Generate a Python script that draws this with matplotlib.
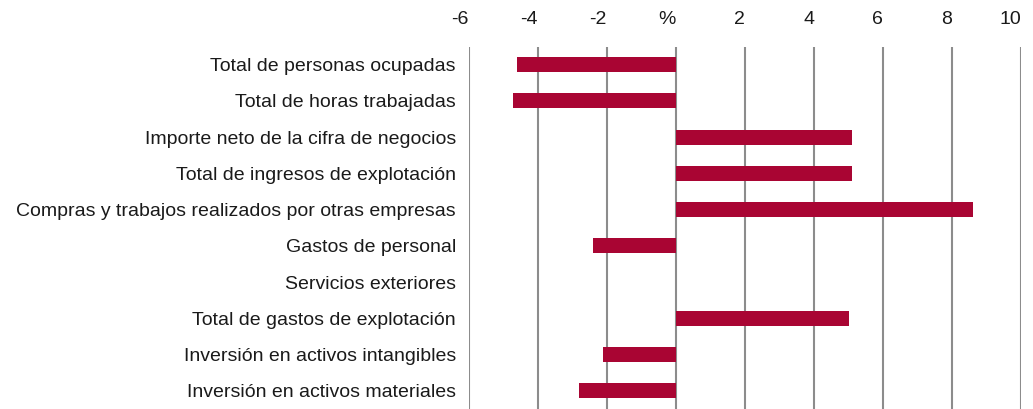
import matplotlib
matplotlib.use("Agg")
import matplotlib.pyplot as plt

categories = [
    "Total de personas ocupadas",
    "Total de horas trabajadas",
    "Importe neto de la cifra de negocios",
    "Total de ingresos de explotación",
    "Compras y trabajos realizados por otras empresas",
    "Gastos de personal",
    "Servicios exteriores",
    "Total de gastos de explotación",
    "Inversión en activos intangibles",
    "Inversión en activos materiales",
]
values = [-4.60, -4.72, 5.11, 5.11, 8.60, -2.40, 0.0, 5.01, -2.12, -2.81]
xticks = [-6, -4, -2, 0, 2, 4, 6, 8, 10]
xtick_labels = ["-6", "-4", "-2", "%", "2", "4", "6", "8", "10"]

plt.rcParams["font.family"] = ["Liberation Sans", "DejaVu Sans"]

fig = plt.figure(figsize=(10.33, 4.09), dpi=100)
ax = fig.add_axes([469 / 1033, 0.0, (1021 - 469) / 1033, 1 - 46.5 / 409])

ypos = list(range(len(categories)))
ax.barh(ypos, values, height=0.41, color="#A90533", zorder=3)

ax.set_xlim(-6, 10)
ax.set_ylim(len(categories) - 0.5, -0.5)
ax.set_xticks(xticks)
ax.set_xticklabels(xtick_labels, ha="right")
ax.set_yticks(ypos)
ax.set_yticklabels(categories)

ax.xaxis.tick_top()
ax.tick_params(axis="x", length=0, pad=13, labelsize=14, colors="#1a1a1a")
ax.tick_params(axis="y", length=0, pad=9.4, labelsize=14, colors="#1a1a1a")

for x in xticks:
    ax.axvline(x, color="#8c8c8c", linewidth=1.5, zorder=1)

for s in ax.spines.values():
    s.set_visible(False)

fig.savefig("out.png", dpi=100)
